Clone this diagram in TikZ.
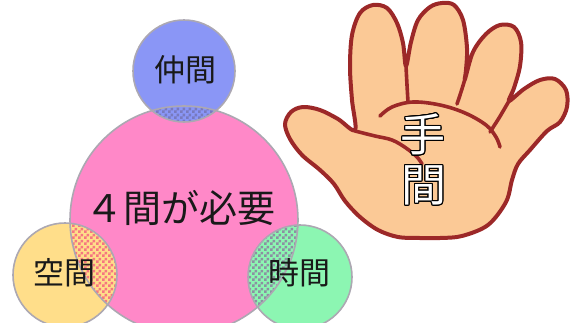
\documentclass[tikz,border=0pt]{standalone}
\usepackage{fontspec}
\usepackage[copies]{contour}
\usetikzlibrary{patterns}
\newfontfamily\jp{Noto Sans CJK JP}

\definecolor{pinkc}{RGB}{255,136,200}
\definecolor{bluec}{RGB}{138,150,246}
\definecolor{yellowc}{RGB}{255,222,138}
\definecolor{greenc}{RGB}{140,246,178}
\definecolor{bluechk}{RGB}{120,122,190}
\definecolor{yellowchk}{RGB}{246,118,128}
\definecolor{greenchk}{RGB}{140,144,162}
\definecolor{rimc}{RGB}{172,168,178}
\definecolor{skin}{RGB}{251,201,150}
\definecolor{handline}{RGB}{156,40,40}
\definecolor{ink}{RGB}{25,25,25}

% 3pt checker tiles for the overlapping parts of the circles
\pgfdeclarepatternformonly{checks}{\pgfpointorigin}{\pgfqpoint{6pt}{6pt}}{\pgfqpoint{6pt}{6pt}}{%
  \pgfpathrectangle{\pgfpointorigin}{\pgfqpoint{3pt}{3pt}}%
  \pgfpathrectangle{\pgfqpoint{3pt}{3pt}}{\pgfqpoint{3pt}{3pt}}%
  \pgfusepath{fill}}

\contourlength{1.1pt}

\tikzset{
  rim/.style={draw=rimc, line width=1.6pt},
  small/.style={font=\jp\fontsize{31}{31}\selectfont, text=ink, inner sep=0pt},
  big/.style={font=\jp\fontsize{38}{38}\selectfont, text=ink, inner sep=0pt},
  palm/.style={font=\jp\fontsize{45}{45}\selectfont, inner sep=0pt},
  outline/.style={draw=handline, line width=4pt, line join=round, line cap=round},
  crease/.style={draw=handline, line width=3.6pt, line cap=round, line join=round},
}

\begin{document}
\begin{tikzpicture}[x=1pt,y=-1pt]
\useasboundingbox (0,0) rectangle (576,322);

% circle centres
\coordinate (P) at (184,220);
\coordinate (B) at (184,71);
\coordinate (Y) at (65,275);
\coordinate (G) at (300,277);

% fills
\fill[pinkc] (P) circle[radius=114];
\fill[bluec] (B) circle[radius=51];
\fill[yellowc] (Y) circle[radius=52];
\fill[greenc] (G) circle[radius=52];

% checkered overlaps
\begin{scope}
  \clip (P) circle[radius=114];
  \fill[pattern=checks, pattern color=bluechk] (B) circle[radius=51];
  \fill[pattern=checks, pattern color=yellowchk] (Y) circle[radius=52];
  \fill[pattern=checks, pattern color=greenchk] (G) circle[radius=52];
\end{scope}

% rims
\draw[rim] (P) circle[radius=114];
\draw[rim] (B) circle[radius=51];
\draw[rim] (Y) circle[radius=52];
\draw[rim] (G) circle[radius=52];

% labels
\node[small] (nakama) at (185,70) {仲間};
\node[small] (kukan) at (64,273) {空間};
\node[small] (jikan) at (299,273) {時間};
\node[big] (need) at (180,208) {４間が必要};

% hand
\path[outline, fill=skin] plot[smooth cycle, tension=0.55] coordinates {
  (355,130) (352,100) (350,67) (352,35) (360,13) (373,5) (387,8) (397,23)
  (403,43) (406,66)
  (411,42) (418,20) (430,7) (442,3) (454,5) (463,20) (467,48) (466,70)
  (465,79)
  (473,52) (486,34) (500,25) (514,27) (521,42) (520,66) (514,88) (509,101)
  (524,89) (540,80) (555,79) (566,90) (567,107) (560,122) (547,131)
  (530,150) (518,164) (512,180) (506,202) (488,225) (462,236) (440,238)
  (420,238) (398,237) (378,230) (360,217) (345,201) (334,184) (320,170)
  (302,155) (290,139) (285,124) (291,112) (303,107) (320,110) (338,119)
};
% finger roots
\draw[crease] plot[smooth, tension=0.5] coordinates {(406,66) (407,85) (408,102)};
\draw[crease] plot[smooth, tension=0.5] coordinates {(465,79) (461,92) (457,104)};
\draw[crease] plot[smooth, tension=0.5] coordinates {(509,101) (499,118) (490,132)};
% palm lines
\draw[crease] plot[smooth, tension=0.6] coordinates {
  (380,116) (392,107) (413,102) (440,105) (465,113) (486,125) (496,137) (500,147)};
\draw[crease] plot[smooth, tension=0.6] coordinates {
  (355,131) (375,136) (392,140) (406,148) (417,157) (422,164)};

\node[palm] (te) at (423,135) {\contour{black}{\textcolor{white}{手}}};
\node[palm] (ma) at (424,186) {\contour{black}{\textcolor{white}{間}}};
\end{tikzpicture}
\end{document}
